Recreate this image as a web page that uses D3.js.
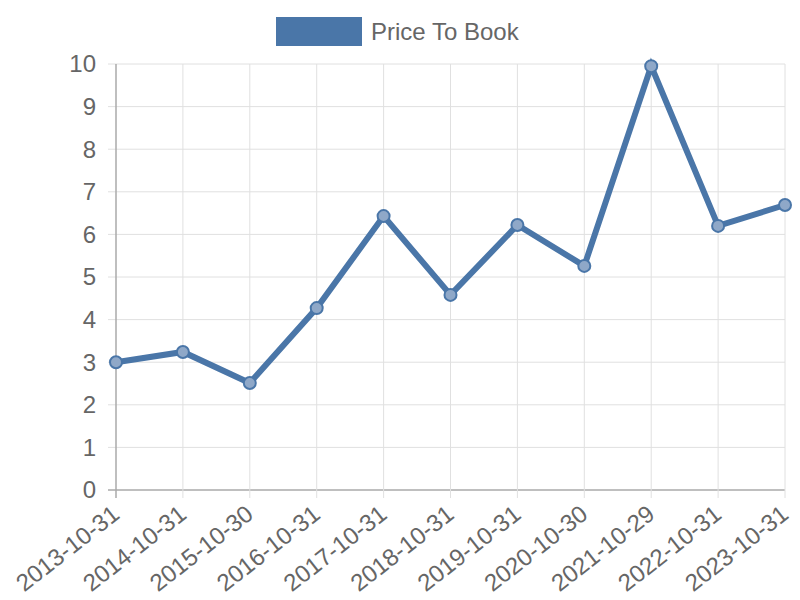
<!DOCTYPE html>
<html>
<head>
<meta charset="utf-8">
<script src="https://cdn.jsdelivr.net/npm/d3@7"></script>
<style>
  html, body { margin: 0; padding: 0; background: #fff; }
  svg { display: block; font-family: "Liberation Sans", Arial, sans-serif; }
</style>
</head>
<body>
<div id="chart"></div>
<script>
// ── Data ──
const dates = ['2013-10-31', '2014-10-31', '2015-10-30', '2016-10-31', '2017-10-31',
  '2018-10-31', '2019-10-31', '2020-10-30', '2021-10-29', '2022-10-31', '2023-10-31'];
const priceToBook = [3.00, 3.24, 2.51, 4.27, 6.43, 4.58, 6.22, 5.26, 9.95, 6.20, 6.69];
const yTicks = [0, 1, 2, 3, 4, 5, 6, 7, 8, 9, 10];
const seriesName = 'Price To Book';

const width = 800, height = 600;
const margin = { top: 64, right: 15, bottom: 110, left: 116 };
const lineColor = '#4a76a8';

const svg = d3.select('#chart').append('svg')
  .attr('width', width).attr('height', height);

const x = d3.scalePoint().domain(dates).range([margin.left, width - margin.right]);
const y = d3.scaleLinear().domain([0, 10]).range([height - margin.bottom, margin.top]);

// ── Grid ──
const grid = svg.append('g');
grid.selectAll('line.h').data(yTicks).join('line')
  .attr('x1', margin.left - 8).attr('x2', width - margin.right)
  .attr('y1', d => y(d)).attr('y2', d => y(d))
  .attr('stroke', d => d === 0 ? '#aaa' : '#e0e0e0').attr('stroke-width', d => d === 0 ? 1.5 : 1);
grid.selectAll('line.v').data(dates).join('line')
  .attr('x1', d => x(d)).attr('x2', d => x(d))
  .attr('y1', margin.top).attr('y2', height - margin.bottom + 8)
  .attr('stroke', (d, i) => i === 0 ? '#aaa' : '#e0e0e0').attr('stroke-width', (d, i) => i === 0 ? 1.5 : 1);

// ── Y labels ──
svg.append('g').selectAll('text').data(yTicks).join('text')
  .attr('x', margin.left - 20).attr('y', d => y(d))
  .attr('dy', '0.35em').attr('text-anchor', 'end')
  .attr('font-size', 24).attr('fill', '#666')
  .text(d => d);

// ── X labels (rotated) ──
svg.append('g').selectAll('text').data(dates).join('text')
  .attr('transform', d => 'translate(' + (x(d) + 5) + ',' + (height - margin.bottom + 27) + ') rotate(-38)')
  .attr('text-anchor', 'end')
  .attr('font-size', 24).attr('fill', '#666')
  .text(d => d);

// ── Line ──
const line = d3.line().x((d, i) => x(dates[i])).y(d => y(d));
svg.append('path').datum(priceToBook)
  .attr('d', line).attr('fill', 'none')
  .attr('stroke', lineColor).attr('stroke-width', 6)
  .attr('stroke-linejoin', 'miter');

svg.append('g').selectAll('circle').data(priceToBook).join('circle')
  .attr('cx', (d, i) => x(dates[i])).attr('cy', d => y(d))
  .attr('r', 6)
  .attr('fill', '#8fa8c8').attr('stroke', lineColor).attr('stroke-width', 2);

// ── Legend ──
const legend = svg.append('g');
legend.append('rect').attr('x', 276).attr('y', 17).attr('width', 86).attr('height', 29)
  .attr('fill', lineColor);
legend.append('text').attr('x', 371).attr('y', 32).attr('dy', '0.35em')
  .attr('font-size', 24).attr('fill', '#666').text(seriesName);
</script>
</body>
</html>
